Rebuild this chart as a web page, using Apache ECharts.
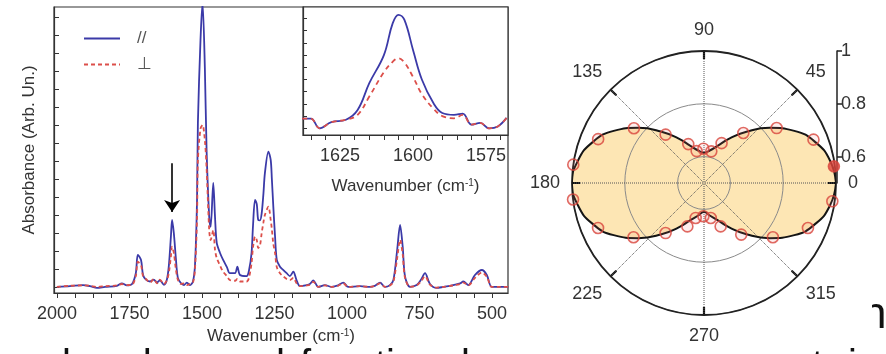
<!DOCTYPE html>
<html>
<head>
<meta charset="utf-8">
<script src="https://cdn.jsdelivr.net/npm/echarts@6/dist/echarts.min.js"></script>
<style>
  html, body { margin: 0; padding: 0; background: #fff; }
  #chart { width: 886px; height: 354px; }
</style>
</head>
<body>
<div id="chart"></div>
<script>
// ---- spectrum (main panel), wavenumber in cm-1, absorbance in arb. units
const wavenumbers = [2000, 1955, 1910, 1886, 1862, 1834, 1793, 1776, 1759, 1741,
  1728, 1721, 1710, 1703, 1693, 1679, 1666, 1655, 1645, 1631,
  1621, 1614, 1607, 1603, 1597, 1590, 1583, 1572, 1562, 1552,
  1541, 1531, 1524, 1517, 1514, 1505, 1498, 1490, 1484, 1475,
  1470, 1461, 1455, 1449, 1438, 1427, 1414, 1404, 1386, 1378,
  1369, 1346, 1338, 1329, 1324, 1317, 1311, 1306, 1300, 1294,
  1288, 1283, 1271, 1263, 1259, 1254, 1248, 1242, 1231, 1221,
  1208, 1197, 1185, 1174, 1162, 1139, 1128, 1116, 1099, 1076,
  1053, 1031, 1013, 996, 955, 921, 904, 886, 869, 852,
  840, 827, 817, 808, 800, 783, 760, 745, 731, 714,
  691, 668, 634, 610, 599, 582, 559, 535, 518, 501,
  473, 444];
const absParallel = [0, 0.02, 0.05, 0.02, -0.03, 0, 0.03, 0.1, 0.04, 0.08,
  0.38, 0.89, 0.75, 0.33, 0.2, 0.15, 0.2, 0.12, 0.18, 0.06,
  0.2, 0.6, 1.4, 1.86, 1.5, 0.8, 0.25, 0.1, 0.05, 0.12,
  0.05, 0.15, 0.6, 2.4, 4.55, 6.86, 7.9, 6.1, 3.8, 1.95,
  1.67, 2.89, 1.95, 1.22, 0.95, 0.75, 0.55, 0.38, 0.38, 0.56,
  0.33, 0.3, 0.45, 0.94, 1.7, 2.42, 2.3, 1.86, 1.85, 2.05,
  2.6, 3.16, 3.76, 3.53, 3.0, 2.23, 1.4, 0.75, 0.56, 0.48,
  0.38, 0.3, 0.42, 0.19, 0.02, 0.05, 0.08, 0.18, 0, 0.05,
  0, 0.04, 0.12, 0, 0.02, 0, 0.03, 0.12, 0, 0.05,
  0.19, 1.03, 1.72, 1.12, 0.29, 0, 0.05, 0.2, 0.38, 0.08,
  -0.03, 0, 0.05, 0.1, 0.15, 0.05, 0.33, 0.47, 0.33, 0,
  0, 0];
const absPerp = [0, 0.03, 0.04, 0.03, 0, 0.02, 0.04, 0.08, 0.05, 0.06,
  0.3, 0.7, 0.6, 0.3, 0.22, 0.12, 0.22, 0.1, 0.2, 0.08,
  0.18, 0.4, 0.85, 1.12, 0.95, 0.5, 0.2, 0.08, 0.1, 0.05,
  0.08, 0.12, 0.5, 1.9, 3.5, 4.4, 4.5, 4.08, 3.3, 1.58,
  1.3, 1.58, 1.03, 0.8, 0.6, 0.42, 0.3, 0.19, 0.17, 0.22,
  0.15, 0.15, 0.25, 0.66, 1.1, 1.4, 1.3, 1.08, 1.15, 1.5,
  1.8, 2.0, 2.23, 1.86, 1.6, 1.2, 0.94, 0.55, 0.38, 0.3,
  0.22, 0.19, 0.25, 0.1, 0.02, 0.04, 0.06, 0.14, 0, 0.04,
  0, 0.03, 0.1, 0, 0.02, 0, 0.03, 0.1, 0, 0.04,
  0.15, 0.8, 1.31, 0.9, 0.25, 0, 0.04, 0.15, 0.3, 0.06,
  -0.02, 0, 0.04, 0.08, 0.12, 0.04, 0.25, 0.4, 0.28, 0,
  0, 0];
const mainLabelValues = [2000, 1750, 1500, 1250, 1000, 750, 500];
const mainTickValues = [500, 562.5, 625, 687.5, 750, 812.5, 875, 937.5, 1000, 1062.5,
  1125, 1187.5, 1250, 1312.5, 1375, 1437.5, 1500, 1562.5, 1625, 1687.5,
  1750, 1812.5, 1875, 1937.5, 2000];
const mainYTicks = [0, 0.5, 1, 1.5, 2, 2.5, 3, 3.5, 4, 4.5, 5, 5.5, 6, 6.5, 7, 7.5];
// arrow pointing at the 1600 band
const arrowWavenumber = 1603;
const arrowFrom = 3.44;
const arrowTo = 2.08;

// ---- inset (zoom on the 1600 band)
const insetWavenumbers = [1638, 1635, 1632, 1628, 1623, 1619, 1615, 1610, 1607, 1605,
  1603, 1600, 1597, 1593, 1590, 1586, 1583, 1580, 1577, 1574, 1571, 1568];
const insetParallel = [0.8, 0.8, 0, 0.5, 0.7, 1.5, 3.7, 6.0, 8.6, 9.3,
  8.9, 6.4, 4.0, 2.05, 1.25, 1.1, 1.2, 0.3, 0.45, 0, 0.15, 0.85];
const insetPerp = [0.8, 0.8, 0, 0.5, 0.7, 1.1, 2.6, 4.6, 5.45, 5.74,
  5.4, 4.2, 2.8, 1.6, 1.0, 0.82, 1.1, 0.3, 0.45, 0, 0.15, 0.85];
const insetLabelValues = [1625, 1600, 1575];
const insetTickValues = [1570, 1575, 1580, 1585, 1590, 1595, 1600, 1605, 1610, 1615, 1620, 1625, 1630, 1635];
const insetYTicks = [0, 1, 2, 3, 4, 5, 6, 7, 8, 9];

// ---- polar plot: fitted curve and measured points (radius, angle in degrees)
const curveAngles = [0, 10, 20, 30, 40, 50, 60, 70, 80, 90, 100, 110, 120, 130, 140, 150, 160, 170, 180,
  190, 200, 210, 220, 230, 240, 250, 260, 270, 280, 290, 300, 310, 320, 330, 340, 350, 360];
const curveRadii = [1.0, 0.985, 0.95, 0.895, 0.825, 0.755, 0.695, 0.65, 0.625, 0.615,
  0.625, 0.65, 0.695, 0.755, 0.825, 0.895, 0.95, 0.985, 1.0,
  0.985, 0.95, 0.895, 0.825, 0.755, 0.695, 0.65, 0.625, 0.61,
  0.625, 0.65, 0.695, 0.755, 0.825, 0.895, 0.95, 0.985, 1.0];
const pointAngles = [7.3, 21.6, 37.1, 51.8, 66.2, 77, 91, 103, 112, 128.4, 142, 157.5, 172,
  187.2, 203, 217.6, 232.5, 249, 256.6, 269, 281, 291, 305.8, 321.8, 336.6, 351.9];
const pointRadii = [0.996, 0.946, 0.845, 0.741, 0.665, 0.623, 0.63, 0.624, 0.659, 0.734, 0.837, 0.934, 1.0,
  1.0, 0.936, 0.837, 0.739, 0.676, 0.636, 0.626, 0.635, 0.676, 0.741, 0.832, 0.929, 0.991];
const filledPoint = 0;
const scaleTicks = [0.6, 0.8, 1];

// ---- text of the page behind the figure (only its top shows)
const bottomWords = ['bands', 'and', 'functional', 'groups', 'present', 'in'];
const bottomSpans = [[62, 172], [205, 285], [300, 470], [490, 603], [623, 823], [848, 895]];

const FONT = '"Liberation Sans", Arial, sans-serif';
const BLUE = '#3b3aa8';
const RED = '#dc4f4a';

const measureCtx = document.createElement('canvas').getContext('2d');
function spacedWord(word, x0, x1, y, font) {
  measureCtx.font = font;
  const chars = [...word];
  const widths = chars.map(c => measureCtx.measureText(c).width);
  const total = widths.reduce((a, b) => a + b, 0);
  const gap = chars.length > 1 ? (x1 - x0 - total) / (chars.length - 1) : 0;
  let x = x0;
  return chars.map((c, i) => {
    const el = { type: 'text', x: x, y: y, silent: true,
      style: { text: c, font: font, fill: '#111', verticalAlign: 'middle' } };
    x += widths[i] + gap;
    return el;
  });
}

const pageFont = '40px "Liberation Sans"';
let pageText = [];
bottomWords.forEach((w, i) => {
  pageText = pageText.concat(spacedWord(w, bottomSpans[i][0], bottomSpans[i][1], 367, pageFont));
});

const axisColor = '#333';
const plain = v => String(v);
const labelStyle = { fontSize: 18, color: '#333', fontFamily: FONT };
const nameStyle = {
  fontSize: 17, color: '#333', fontFamily: FONT,
  rich: { sup: { fontSize: 10, lineHeight: 10, verticalAlign: 'top', color: '#333', fontFamily: FONT } }
};

const chart = echarts.init(document.getElementById('chart'));

const option = {
  animation: false,
  backgroundColor: '#fff',
  textStyle: { fontFamily: FONT },
  legend: {
    data: ['//', '⊥'],
    orient: 'vertical',
    left: 78,
    top: 25,
    itemWidth: 36,
    itemHeight: 14,
    itemGap: 9,
    itemStyle: { color: 'rgba(0,0,0,0)', borderWidth: 0 },
    textStyle: { fontSize: 17, color: '#555', fontFamily: FONT, padding: [0, 0, 0, 12] }
  },
  grid: [
    { left: 54, right: 378, top: 7, bottom: 61, show: true, borderColor: axisColor, borderWidth: 1.2 },
    { left: 303, right: 378, top: 7, bottom: 219, show: true, backgroundColor: '#fff', borderColor: axisColor, borderWidth: 1.2 },
    { left: 836, width: 1, top: 51, height: 132 }
  ],
  xAxis: [
    {
      gridIndex: 0, type: 'value', inverse: true, min: 445, max: 2010,
      name: 'Wavenumber (cm{sup|-1})', nameLocation: 'middle', nameGap: 35, nameTextStyle: nameStyle,
      axisLine: { onZero: false, lineStyle: { color: axisColor, width: 1.2 } },
      axisTick: { customValues: mainTickValues, length: 5, lineStyle: { color: axisColor } },
      axisLabel: Object.assign({ customValues: mainLabelValues, margin: 12, formatter: plain }, labelStyle),
      splitLine: { show: false }
    },
    {
      gridIndex: 1, type: 'value', inverse: true, min: 1567.5, max: 1637.7,
      name: 'Wavenumber (cm{sup|-1})', nameLocation: 'middle', nameGap: 43, nameTextStyle: nameStyle,
      axisLine: { onZero: false, lineStyle: { color: axisColor, width: 1.2 } },
      axisTick: { customValues: insetTickValues, length: 5, lineStyle: { color: axisColor } },
      axisLabel: Object.assign({ customValues: insetLabelValues, margin: 12, formatter: plain }, labelStyle),
      splitLine: { show: false }
    },
    { gridIndex: 2, type: 'value', show: false }
  ],
  yAxis: [
    {
      gridIndex: 0, type: 'value', min: -0.17, max: 7.78,
      name: 'Absorbance (Arb. Un.)', nameLocation: 'middle', nameGap: 16,
      nameTextStyle: { fontSize: 17, color: '#333', fontFamily: FONT },
      axisLine: { show: true, onZero: false, lineStyle: { color: axisColor, width: 1.2 } },
      axisTick: { show: true, inside: true, customValues: mainYTicks, length: 5, lineStyle: { color: axisColor } },
      axisLabel: { show: false },
      splitLine: { show: false }
    },
    {
      gridIndex: 1, type: 'value', min: -0.55, max: 9.94,
      axisLine: { show: true, onZero: false, lineStyle: { color: axisColor, width: 1.2 } },
      axisTick: { show: true, inside: true, customValues: insetYTicks, length: 4, lineStyle: { color: axisColor } },
      axisLabel: { show: false },
      splitLine: { show: false }
    },
    {
      gridIndex: 2, type: 'value', min: 0.5, max: 1, interval: 0.1, position: 'right',
      axisLine: { show: true, onZero: false, lineStyle: { color: '#222', width: 1.5 } },
      axisTick: { show: true, customValues: scaleTicks, length: 5, lineStyle: { color: '#222', width: 1.5 } },
      axisLabel: Object.assign({
        show: true, customValues: scaleTicks, margin: 4,
        formatter: v => (v === 1 ? '1' : v.toFixed(1))
      }, labelStyle),
      splitLine: { show: false }
    }
  ],
  polar: { center: [704, 183], radius: 132 },
  angleAxis: {
    type: 'value', min: 0, max: 360, interval: 45, startAngle: 0, clockwise: false, z: 5,
    axisLine: { lineStyle: { color: '#222', width: 1.8 } },
    axisTick: { show: true, inside: true, length: 8, lineStyle: { color: '#111', width: 2.2 } },
    axisLabel: Object.assign({ margin: 12, formatter: v => (v === 360 ? '' : String(v)) }, labelStyle),
    splitLine: { show: true, lineStyle: { color: '#555', type: 'dotted', width: 1 } }
  },
  radiusAxis: {
    type: 'value', min: 0.5, max: 1, interval: 0.1, z: 5,
    axisLine: { show: false },
    axisTick: { show: false },
    axisLabel: { show: false },
    splitLine: { show: true, lineStyle: { color: ['rgba(0,0,0,0)', '#8a8a8a'], width: 1 } }
  },
  series: [
    {
      name: '//', type: 'line', xAxisIndex: 0, yAxisIndex: 0,
      data: wavenumbers.map((w, i) => [w, absParallel[i]]),
      symbol: 'none', showSymbol: false, smooth: 0.3, z: 2,
      lineStyle: { color: BLUE, width: 1.8 }, itemStyle: { color: BLUE },
      markLine: {
        silent: true, symbol: ['none', 'arrow'], symbolSize: 12,
        lineStyle: { color: '#000', width: 1.6, type: 'solid' },
        label: { show: false },
        data: [[{ coord: [arrowWavenumber, arrowFrom] }, { coord: [arrowWavenumber, arrowTo] }]]
      }
    },
    {
      name: '⊥', type: 'line', xAxisIndex: 0, yAxisIndex: 0,
      data: wavenumbers.map((w, i) => [w, absPerp[i]]),
      symbol: 'none', showSymbol: false, smooth: 0.3, z: 3,
      lineStyle: { color: RED, width: 1.8, type: [4, 3] }, itemStyle: { color: RED }
    },
    {
      name: '//', type: 'line', xAxisIndex: 1, yAxisIndex: 1,
      data: insetWavenumbers.map((w, i) => [w, insetParallel[i]]),
      symbol: 'none', showSymbol: false, smooth: 0.4, z: 2,
      lineStyle: { color: BLUE, width: 1.8 }, itemStyle: { color: BLUE }
    },
    {
      name: '⊥', type: 'line', xAxisIndex: 1, yAxisIndex: 1,
      data: insetWavenumbers.map((w, i) => [w, insetPerp[i]]),
      symbol: 'none', showSymbol: false, smooth: 0.4, z: 3,
      lineStyle: { color: RED, width: 1.8, type: [5, 4] }, itemStyle: { color: RED }
    },
    {
      type: 'line', coordinateSystem: 'polar', silent: true,
      data: curveAngles.map((a, i) => [curveRadii[i], a]),
      symbol: 'none', showSymbol: false, smooth: true, z: 1,
      lineStyle: { width: 0, color: 'rgba(0,0,0,0)' },
      areaStyle: { color: '#fde6b4', opacity: 1 }
    },
    {
      type: 'line', coordinateSystem: 'polar', silent: true,
      data: curveAngles.map((a, i) => [curveRadii[i], a]),
      symbol: 'none', showSymbol: false, smooth: true, z: 6,
      lineStyle: { color: '#151515', width: 2 }
    },
    {
      type: 'scatter', coordinateSystem: 'polar', silent: true, z: 7,
      symbol: 'circle', symbolSize: 11,
      itemStyle: { color: 'rgba(235,120,110,0.15)', borderColor: '#d8453c', borderWidth: 1.6 },
      data: pointAngles.map((a, i) => (i === filledPoint
        ? { value: [pointRadii[i], a], itemStyle: { color: '#e0453c' } }
        : [pointRadii[i], a]))
    }
  ],
  graphic: {
    elements: pageText.concat([
      { type: 'text', x: 862, y: 316, silent: true,
        style: { text: 'n', font: '44px "Liberation Sans"', fill: '#111', verticalAlign: 'middle' } },
      { type: 'rect', silent: true, shape: { x: 850, y: 290, width: 22, height: 44 }, style: { fill: '#fff' } }
    ])
  }
};

chart.setOption(option);
</script>
</body>
</html>
